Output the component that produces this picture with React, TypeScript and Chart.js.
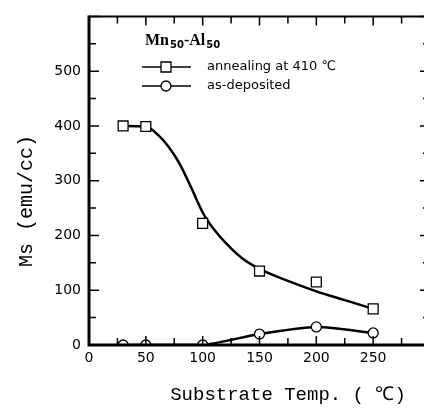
import React, { useEffect, useRef } from 'react';
import { Chart, registerables } from 'chart.js';

Chart.register(...registerables);

// ---- data ----
const tempX = [30, 50, 100, 150, 200, 250];
const annealed = [400, 399, 222, 135, 115, 66];
const asDeposited = [0, 0, 0, 20, 33, 22];
const fitX = [30, 50, 60, 70, 80, 90, 95, 100, 105, 110, 120, 135, 150, 175, 200, 225, 250];
const fitY = [400, 399, 385, 362, 330, 287, 264, 242, 225, 211, 187, 158, 139, 117, 98, 82, 66];
const xTicks = [0, 50, 100, 150, 200, 250];
const yTicks = [0, 100, 200, 300, 400, 500];
const legendLabels = ['annealing at 410 ℃', 'as-deposited'];
const xTitle = 'Substrate Temp. ( ℃)';
const yTitle = 'Ms (emu/cc)';

const framePlugin = {
  id: 'frame',
  afterDraw(chart: any) {
    const { ctx, chartArea } = chart;
    const { left, right, top, bottom } = chartArea;
    const xs = chart.scales.x;
    const ys = chart.scales.y;
    ctx.save();
    ctx.strokeStyle = '#000';
    ctx.lineCap = 'butt';
    // frame
    ctx.lineWidth = 3;
    ctx.beginPath();
    ctx.moveTo(left, top - 1);
    ctx.lineTo(left, bottom + 1.5);
    ctx.moveTo(left - 1.5, bottom);
    ctx.lineTo(right + 1, bottom);
    ctx.stroke();
    ctx.lineWidth = 2;
    ctx.beginPath();
    ctx.moveTo(left, top);
    ctx.lineTo(right, top);
    ctx.lineTo(right, bottom);
    ctx.stroke();
    // ticks
    ctx.lineWidth = 1.5;
    ctx.beginPath();
    for (let v = 0; v <= 600; v += 50) {
      const y = ys.getPixelForValue(v);
      const len = v % 100 === 0 ? 10 : 7;
      ctx.moveTo(left, y);
      ctx.lineTo(left + len, y);
      ctx.moveTo(right, y);
      ctx.lineTo(right - len, y);
    }
    for (let v = 25; v <= 300; v += 25) {
      const x = xs.getPixelForValue(v);
      const len = v % 50 === 0 ? 9 : 7;
      ctx.moveTo(x, bottom);
      ctx.lineTo(x, bottom - len);
      ctx.moveTo(x, top);
      ctx.lineTo(x, top + len);
    }
    ctx.stroke();

    // axis titles
    ctx.fillStyle = '#000';
    ctx.font = '19px "Liberation Mono", monospace';
    ctx.textAlign = 'center';
    ctx.textBaseline = 'middle';
    ctx.fillText(xTitle, 288, 395);
    ctx.save();
    ctx.translate(27, 201);
    ctx.rotate(-Math.PI / 2);
    ctx.font = '20px "Liberation Mono", monospace';
    ctx.fillText(yTitle, 0, 0);
    ctx.restore();

    // Mn50-Al50 label
    ctx.textAlign = 'left';
    ctx.textBaseline = 'alphabetic';
    let cx = 145;
    const base = 45;
    const parts: [string, boolean][] = [['Mn', false], ['50', true], ['-Al', false], ['50', true]];
    for (const [t, sub] of parts) {
      ctx.font = sub ? 'bold 10px "DejaVu Sans", sans-serif' : 'bold 16px "Liberation Serif", serif';
      ctx.fillText(t, cx + (sub ? 1 : 0), sub ? base + 3 : base);
      cx += ctx.measureText(t).width + (sub ? 1 : 0);
    }

    // legend
    const rows = [67, 86];
    ctx.lineWidth = 1.3;
    ctx.font = '13px "DejaVu Sans", sans-serif';
    ctx.textBaseline = 'middle';
    rows.forEach((ry, i) => {
      ctx.beginPath();
      ctx.moveTo(142, ry);
      ctx.lineTo(191, ry);
      ctx.stroke();
      ctx.fillStyle = '#fff';
      ctx.beginPath();
      if (i === 0) ctx.rect(161, ry - 5, 10, 10);
      else ctx.arc(166, ry, 5, 0, Math.PI * 2);
      ctx.fill();
      ctx.stroke();
      ctx.fillStyle = '#000';
      ctx.fillText(legendLabels[i], 207, ry);
    });
    ctx.restore();
  },
};

export default function App() {
  const ref = useRef<HTMLCanvasElement>(null);
  useEffect(() => {
    const canvas = ref.current;
    if (!canvas) return;
    const tickFont = { family: '"DejaVu Sans", sans-serif', size: 14 };
    const chart = new Chart(canvas, {
      type: 'line',
      data: {
        datasets: [
          {
            label: legendLabels[0],
            data: tempX.map((x, i) => ({ x, y: annealed[i] })),
            showLine: false,
            pointStyle: 'rect',
            pointRadius: 7,
            pointBorderWidth: 1.3,
            pointBackgroundColor: '#fff',
            pointBorderColor: '#000',
            borderColor: '#000',
            order: 0,
          },
          {
            label: 'fit',
            data: fitX.map((x, i) => ({ x, y: fitY[i] })),
            borderColor: '#000',
            borderWidth: 2.5,
            pointRadius: 0,
            cubicInterpolationMode: 'monotone',
            order: 2,
          },
          {
            label: legendLabels[1],
            data: tempX.map((x, i) => ({ x, y: asDeposited[i] })),
            borderColor: '#000',
            borderWidth: 2.5,
            pointStyle: 'circle',
            pointRadius: 5,
            pointBorderWidth: 1.3,
            pointBackgroundColor: '#fff',
            pointBorderColor: '#000',
            tension: 0.25,
            order: 1,
          },
        ],
      } as any,
      options: {
        animation: false,
        responsive: false,
        devicePixelRatio: 1,
        layout: { padding: { left: 0, top: 7, right: 10, bottom: 0 } },
        plugins: { legend: { display: false }, tooltip: { enabled: false } },
        scales: {
          x: {
            type: 'linear',
            min: 0,
            max: 300,
            afterBuildTicks: (s: any) => {
              s.ticks = xTicks.map((v) => ({ value: v }));
            },
            afterFit: (s: any) => {
              s.height = 64;
            },
            ticks: { font: tickFont, color: '#000', padding: 5, maxRotation: 0, autoSkip: false },
            grid: { display: false, drawTicks: false },
            border: { display: false },
          },
          y: {
            type: 'linear',
            min: 0,
            max: 600,
            afterBuildTicks: (s: any) => {
              s.ticks = yTicks.map((v) => ({ value: v }));
            },
            afterFit: (s: any) => {
              s.width = 89;
            },
            ticks: { font: tickFont, color: '#000', padding: 8, autoSkip: false },
            grid: { display: false, drawTicks: false },
            border: { display: false },
          },
        },
      } as any,
      plugins: [framePlugin],
    });
    return () => chart.destroy();
  }, []);
  return (
    <div
      style={{
        position: 'fixed',
        left: 0,
        top: 0,
        width: 424,
        height: 409,
        overflow: 'hidden',
        background: '#fff',
      }}
    >
      <canvas ref={ref} width={440} height={409} style={{ display: 'block', width: 440, height: 409 }} />
    </div>
  );
}
